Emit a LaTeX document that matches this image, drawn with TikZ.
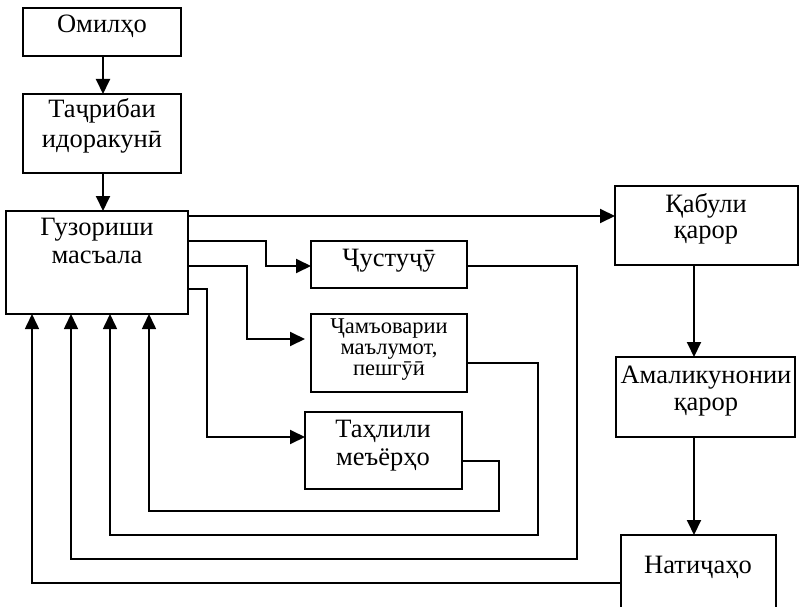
\documentclass[tikz,border=0pt]{standalone}
\usepackage{fontspec}
\setmainfont{Liberation Serif}
\usetikzlibrary{arrows.meta}
\begin{document}
\begin{tikzpicture}[x=1pt,y=-1pt,
  box/.style={draw, line width=1.8pt, inner sep=0pt, outer sep=0pt, anchor=north west},
  txt/.style={font=\fontsize{26.5}{28}\selectfont, anchor=base, inner sep=0pt},
  smalltxt/.style={font=\fontsize{22.5}{22}\selectfont, anchor=base, inner sep=0pt, text height=14pt, text depth=4pt},
  arr/.style={line width=1.9pt, -{Triangle[length=15pt,width=14pt]}},
  fb/.style={line width=1.6pt, -{Triangle[length=15pt,width=14pt]}}]
\useasboundingbox (0,0) rectangle (803,607);
\clip (0,0) rectangle (803,607);
% boxes
\node[box, minimum width=158pt, minimum height=48pt] (om) at (23,8) {};
\node[box, minimum width=158pt, minimum height=79pt] (tac) at (23,94) {};
\node[box, minimum width=182pt, minimum height=103pt] (guz) at (6,211) {};
\node[box, minimum width=156pt, minimum height=47pt] (chus) at (311,241) {};
\node[box, minimum width=156pt, minimum height=78pt] (jam) at (311,314) {};
\node[box, minimum width=157pt, minimum height=77pt] (tah) at (305,412) {};
\node[box, minimum width=183pt, minimum height=79pt] (qab) at (615,186) {};
\node[box, minimum width=179pt, minimum height=80pt] (ama) at (616,357) {};
\node[box, minimum width=155pt, minimum height=90pt] (nat) at (621,535) {};
% texts
\node[txt] (om-t) at (102,33) {Омилҳо};
\node[txt] (tac-t1) at (102,118) {Таҷрибаи};
\node[txt] (tac-t2) at (102,147) {идоракунӣ};
\node[txt] (guz-t1) at (97,235) {Гузориши};
\node[txt] (guz-t2) at (97,263) {масъала};
\node[txt] (chus-t) at (389,266) {Ҷустуҷӯ};
\node[smalltxt] (jam-t1) at (389,333) {Ҷамъоварии};
\node[smalltxt] (jam-t2) at (389,354) {маълумот,};
\node[smalltxt] (jam-t3) at (389,375) {пешгӯӣ};
\node[txt] (tah-t1) at (383,437) {Таҳлили};
\node[txt] (tah-t2) at (383,465) {меъёрҳо};
\node[txt] (qab-t1) at (706,212) {Қабули};
\node[txt] (qab-t2) at (706,238) {қарор};
\node[txt] (ama-t1) at (706,383) {Амаликунонии};
\node[txt] (ama-t2) at (706,410) {қарор};
\node[txt] (nat-t) at (698,573) {Натиҷаҳо};
% main flow
\draw[arr] (om.south -| 103,0) -- (tac.north -| 103,0);
\draw[arr] (tac.south -| 103,0) -- (guz.north -| 103,0);
\draw[arr] (guz.east |- 0,216) -- (qab.west |- 0,216);
\draw[arr] (guz.east |- 0,241) -| (266,266) -- (chus.west |- 0,266);
\draw[arr] (guz.east |- 0,266) -| (247,339) -- ([xshift=-6pt]jam.west |- 0,339);
\draw[arr] (guz.east |- 0,289) -| (207,437) -- (tah.west |- 0,437);
\draw[arr] (qab.south -| 694,0) -- (ama.north -| 694,0);
\draw[arr] (ama.south -| 694,0) -- (nat.north -| 694,0);
% feedback
\draw[fb] (chus.east |- 0,266) -| (577,559) -| (guz.south -| 71,0);
\draw[fb] (jam.east |- 0,363) -| (538,535) -| (guz.south -| 110,0);
\draw[fb] (tah.east |- 0,461) -| (499,511) -| (guz.south -| 149,0);
\draw[fb] (nat.west |- 0,583) -| (guz.south -| 32,0);
\end{tikzpicture}
\end{document}
